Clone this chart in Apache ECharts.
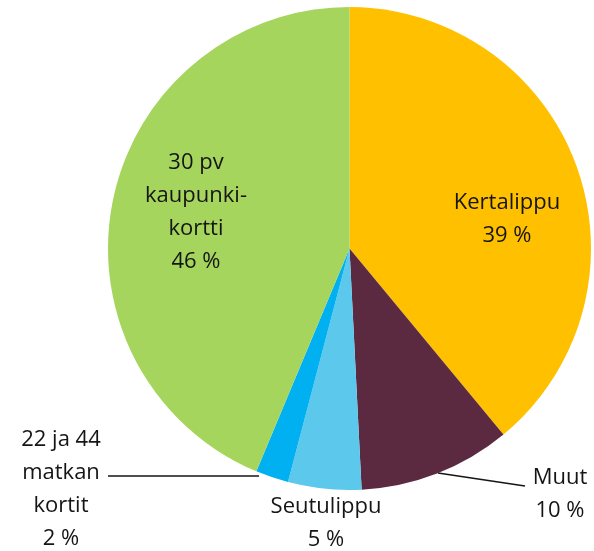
<!DOCTYPE html>
<html>
<head>
<meta charset="utf-8">
<script src="https://cdn.jsdelivr.net/npm/echarts@6/dist/echarts.min.js"></script>
<style>
    html, body { margin: 0; padding: 0; background: #fff; }
    #chart { width: 594px; height: 551px; }
</style>
</head>
<body>
<div id="chart"></div>
<script>
(function(win) {

    var names = ['Kertalippu', 'Muut', 'Seutulippu', '22 ja 44\nmatkan\nkortit', '30 pv\nkaupunki-\nkortti'],
        values = [39.0, 10.2, 4.9, 2.2, 43.7],
        shown = ['39 %', '10 %', '5 %', '2 %', '46 %'],
        colors = ['#FFC000', '#5B2A41', '#5BC8EC', '#00B0F0', '#A5D55D'];

    // label block centres and leader lines
    var labelPos = [
            [507, 219],
            [560, 494],
            [326, 523],
            [61, 489],
            [196, 212]
        ],
        leaders = [
            null,
            [[438, 473], [525, 486], [525, 486]],
            null,
            [[259, 476], [108, 476], [108, 476]],
            null
        ];

    var chart = echarts.init(document.getElementById('chart'));

    var data = names.map(function(n, i) {
        return {
            name: n,
            value: values[i],
            itemStyle: { color: colors[i] },
            labelLine: { show: !!leaders[i] }
        };
    });

    chart.setOption({
        animation: false,
        series: [{
            type: 'pie',
            center: [349.5, 248.5],
            radius: 241.5,
            startAngle: 90,
            clockwise: true,
            avoidLabelOverlap: false,
            data: data,
            itemStyle: { borderWidth: 0 },
            emphasis: { disabled: true },
            label: {
                show: true,
                position: 'outside',
                color: '#151515',
                fontFamily: 'Open Sans',
                fontSize: 22,
                lineHeight: 33,
                align: 'center',
                overflow: 'none',
                formatter: function(p) {
                    return p.name + '\n' + shown[p.dataIndex];
                }
            },
            labelLine: {
                lineStyle: { color: '#151515', width: 1.5 }
            },
            labelLayout: function(params) {
                var i = params.dataIndex,
                    out = {
                        x: labelPos[i][0],
                        y: labelPos[i][1],
                        align: 'center',
                        verticalAlign: 'middle'
                    };
                if (leaders[i]) {
                    out.labelLinePoints = leaders[i];
                }
                return out;
            }
        }]
    });

}(this));
</script>
</body>
</html>
